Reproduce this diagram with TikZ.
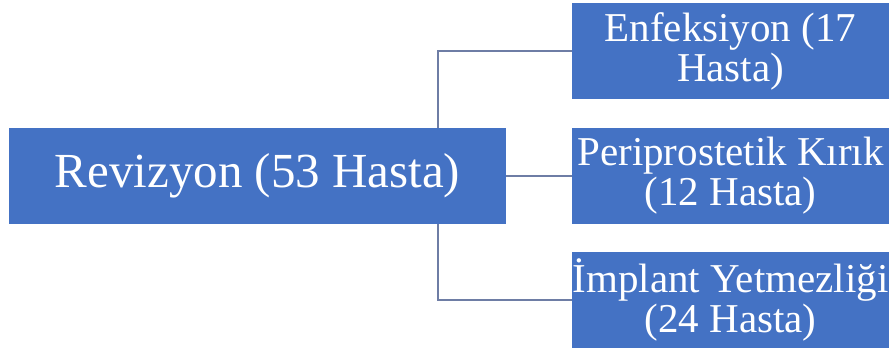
\documentclass[tikz,border=0pt]{standalone}
\usepackage{fontspec}
\setmainfont{Liberation Serif}
\definecolor{boxblue}{RGB}{68,114,196}
\definecolor{linecol}{RGB}{110,125,165}
\begin{document}
\begin{tikzpicture}[x=1pt,y=-1pt,
  bluebox/.style={fill=boxblue,draw=none,text=white,inner sep=0pt,align=center,anchor=center},
  rootbox/.style={bluebox,minimum width=497pt,minimum height=96pt,font=\fontsize{49}{50}\selectfont},
  childbox/.style={bluebox,minimum width=317pt,minimum height=96pt,font=\fontsize{41}{40}\selectfont},
  conn/.style={draw=linecol,line width=1.5pt}]
\useasboundingbox (0,0) rectangle (890,350);
\node[rootbox] (root) at (257.5,176) {Revizyon (53 Hasta)};
\node[childbox] (c1) at (730.5,51) {Enfeksiyon (17\\Hasta)};
\node[childbox] (c2) at (730.5,176) {Periprostetik Kırık\\(12 Hasta)};
\node[childbox] (c3) at (730.5,300) {İmplant Yetmezliği\\(24 Hasta)};
\coordinate (xl) at (438,0);
\draw[conn] (xl |- root.north) |- (c1.west);
\draw[conn] (root.east) -- (c2.west);
\draw[conn] (xl |- root.south) |- (c3.west);
\end{tikzpicture}
\end{document}
